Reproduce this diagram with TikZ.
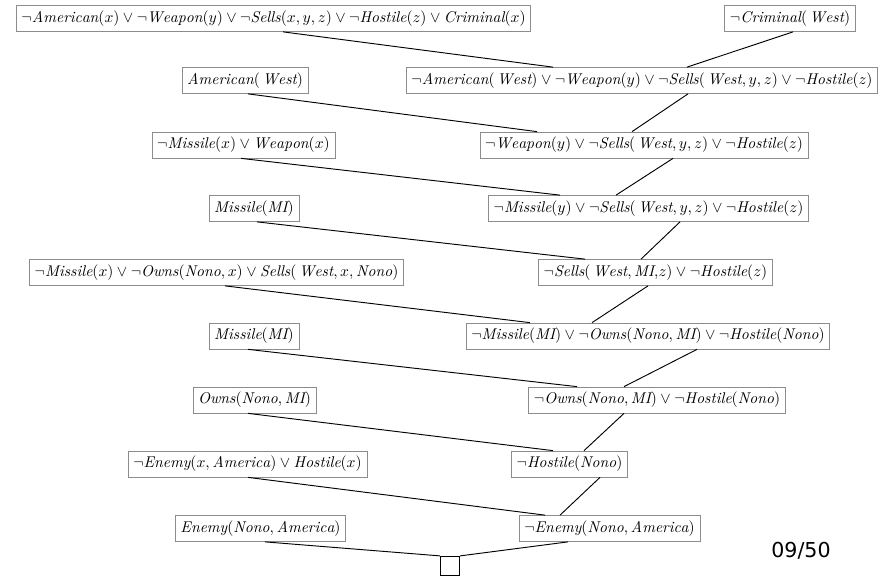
\documentclass[tikz,border=0pt]{standalone}
\usepackage{fontspec}
\usepackage{tikz}
\definecolor{gris}{rgb}{0.55,0.55,0.55}
\newfontfamily\pagefont{DejaVu Sans}
\newcommand{\mi}[1]{\mathit{#1}}
\newcommand{\West}{\mkern3mu\mathit{West}}

\begin{document}
\begin{tikzpicture}[x=0.642pt, y=-0.642pt]
	\tikzstyle{clause}=[rectangle, draw=gris, line width=0.5pt, inner sep=3.33pt, text=black]
	\tikzstyle{res}=[black, line width=0.6pt]
	\useasboundingbox (0,0) rectangle (888,575);

	% CLAUSES GAUCHE
	\node[clause] (L1) at (273.5,18.5) {$\neg\mi{American}(x) \vee \neg\mi{Weapon}(y) \vee \neg\mi{Sells}(x,y,z) \vee \neg\mi{Hostile}(z) \vee \mi{Criminal}(x)$};
	\node[clause] (L2) at (245,80.5) {$\mi{American}(\West)$};
	\node[clause] (L3) at (243.5,145) {$\neg\mi{Missile}(x) \vee \mi{Weapon}(x)$};
	\node[clause] (L4) at (254,208.5) {$\mi{Missile}(\mi{MI})$};
	\node[clause] (L5) at (216.5,272.5) {$\neg\mi{Missile}(x) \vee \neg\mi{Owns}(\mi{Nono},x) \vee \mi{Sells}(\West,x,\mi{Nono})$};
	\node[clause] (L6) at (254,336) {$\mi{Missile}(\mi{MI})$};
	\node[clause] (L7) at (254.5,400) {$\mi{Owns}(\mi{Nono},\mi{MI})$};
	\node[clause] (L8) at (247.5,464) {$\neg\mi{Enemy}(x,\mi{America}) \vee \mi{Hostile}(x)$};
	\node[clause] (L9) at (260.5,528.5) {$\mi{Enemy}(\mi{Nono},\mi{America})$};

	% CLAUSES DROITE
	\node[clause] (R1) at (790,18.5) {$\neg\mi{Criminal}(\West)$};
	\node[clause] (R2) at (642,80.5) {$\neg\mi{American}(\West) \vee \neg\mi{Weapon}(y) \vee \neg\mi{Sells}(\West,y,z) \vee \neg\mi{Hostile}(z)$};
	\node[clause] (R3) at (644,145) {$\neg\mi{Weapon}(y) \vee \neg\mi{Sells}(\West,y,z) \vee \neg\mi{Hostile}(z)$};
	\node[clause] (R4) at (648.5,208.5) {$\neg\mi{Missile}(y) \vee \neg\mi{Sells}(\West,y,z) \vee \neg\mi{Hostile}(z)$};
	\node[clause] (R5) at (655.5,272.5) {$\neg\mi{Sells}(\West,\mi{MI}{,}z) \vee \neg\mi{Hostile}(z)$};
	\node[clause] (R6) at (648,336) {$\neg\mi{Missile}(\mi{MI}) \vee \neg\mi{Owns}(\mi{Nono},\mi{MI}) \vee \neg\mi{Hostile}(\mi{Nono})$};
	\node[clause] (R7) at (657,400) {$\neg\mi{Owns}(\mi{Nono},\mi{MI}) \vee \neg\mi{Hostile}(\mi{Nono})$};
	\node[clause] (R8) at (569.5,464) {$\neg\mi{Hostile}(\mi{Nono})$};
	\node[clause] (R9) at (609.5,528.5) {$\neg\mi{Enemy}(\mi{Nono},\mi{America})$};

	% CLAUSE VIDE
	\node[draw, line width=0.8pt, minimum size=12.2pt, inner sep=0pt] (empty) at (450,566) {};

	\node[anchor=base, font=\pagefont\fontsize{13.2}{16}\selectfont] (page) at (801,557) {09/50};

	% RESOLUTIONS
	\path[res]
		([shift={(9.5,0)}]L1.south) edge ([shift={(-89,0)}]R2.north)
		([shift={(3,0)}]R1.south) edge ([shift={(45,0)}]R2.north)

		([shift={(3,0)}]L2.south) edge ([shift={(-107,0)}]R3.north)
		([shift={(46,0)}]R2.south) edge ([shift={(-12,0)}]R3.north)

		([shift={(-2.5,0)}]L3.south) edge ([shift={(-88.5,0)}]R4.north)
		([shift={(29,0)}]R3.south) edge ([shift={(-32.5,0)}]R4.north)

		([shift={(3,0)}]L4.south) edge ([shift={(-70.5,0)}]R5.north)
		([shift={(31.5,0)}]R4.south) edge ([shift={(-14.5,0)}]R5.north)

		([shift={(8.5,0)}]L5.south) edge ([shift={(-118,0)}]R6.north)
		([shift={(-7.5,0)}]R5.south) edge ([shift={(-56,0)}]R6.north)

		([shift={(-6,0)}]L6.south) edge ([shift={(-80,0)}]R7.north)
		([shift={(49,0)}]R6.south) edge ([shift={(-33,0)}]R7.north)

		([shift={(-6.5,0)}]L7.south) edge ([shift={(-16.5,0)}]R8.north)
		([shift={(-33,0)}]R7.south) edge ([shift={(14.5,0)}]R8.north)

		([shift={(0.5,0)}]L8.south) edge ([shift={(-64.5,0)}]R9.north)
		([shift={(30.5,0)}]R8.south) edge ([shift={(-49.5,0)}]R9.north)

		([shift={(4.5,0)}]L9.south) edge (empty.north west)
		([shift={(-41.5,0)}]R9.south) edge (empty.north east)
	;
\end{tikzpicture}
\end{document}
